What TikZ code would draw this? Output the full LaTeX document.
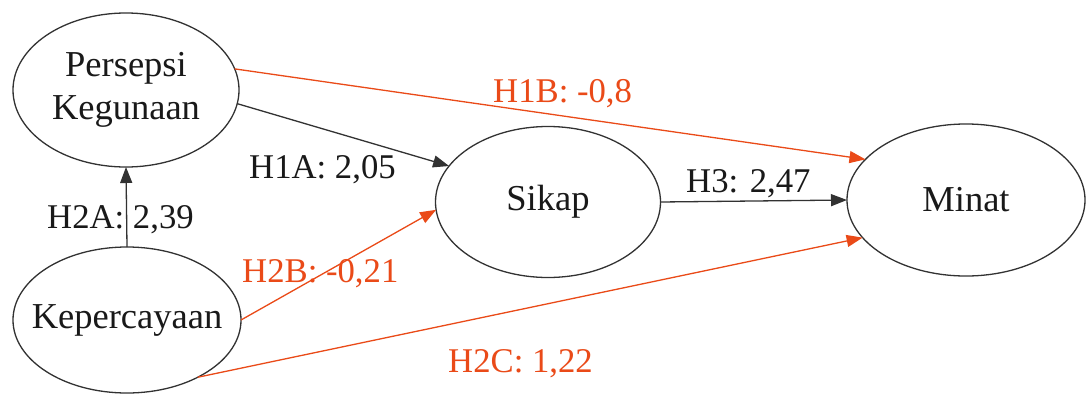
\documentclass[tikz,border=0pt]{standalone}
\usepackage{fontspec}
\setmainfont{Liberation Serif}
\usetikzlibrary{arrows.meta,shapes.geometric}
\definecolor{hred}{RGB}{234,74,24}
\definecolor{edgegray}{RGB}{50,50,50}
\tikzset{
  construct/.style={ellipse,draw=edgegray,line width=1.3pt,inner sep=0pt,outer sep=0pt},
  constructtext/.style={align=center,inner sep=0pt,font=\fontsize{36.5}{43}\selectfont,text=black!90},
  blackarrow/.style={draw=edgegray,line width=1.3pt,-{Triangle[length=16pt,width=12pt]}},
  redarrow/.style={draw=hred,line width=1.3pt,-{Triangle[length=16pt,width=12pt]}},
  blacklabel/.style={anchor=base west,inner sep=0pt,font=\fontsize{34.7}{40}\selectfont,text=black!90},
  redlabel/.style={anchor=base west,inner sep=0pt,font=\fontsize{34.7}{40}\selectfont,text=hred},
}
\begin{document}
\begin{tikzpicture}[x=1pt,y=-1pt]
\useasboundingbox[fill=white] (0,0) rectangle (1087,394);
\node[construct,minimum width=226pt,minimum height=154pt] (pk) at (126,90) {};
\node[construct,minimum width=228pt,minimum height=146pt] (kp) at (127,320) {};
\node[construct,minimum width=225pt,minimum height=151pt] (sk) at (548,202) {};
\node[construct,minimum width=238pt,minimum height=152pt] (mi) at (966,200) {};
\node[constructtext] (pkt) at (pk.center) {Persepsi\\Kegunaan};
\node[constructtext] (kpt) at (kp.center) {Kepercayaan};
\node[constructtext] (skt) at (sk.center) {Sikap};
\node[constructtext] (mit) at (mi.center) {Minat};

\draw[blackarrow] (kp.90) -- (pk.270);
\draw[blackarrow] (pk.-7.7) -- (sk.160.2);
\draw[redarrow] (pk.11.7) -- (mi.158.8);
\draw[blackarrow] (sk.0) -- (mi.180);
\draw[redarrow] (kp.0) -- (sk.184);
\draw[redarrow] (kp.-39.2) -- (mi.200.2);

\node[blacklabel] (l2a) at (47,228) {H2A: 2,39};
\node[blacklabel] (l1a) at (249,178) {H1A: 2,05};
\node[redlabel] (l1b) at (493,102) {H1B: -0,8};
\node[blacklabel] (l3) at (686,192) {H3: 2,47};
\node[redlabel] (l2b) at (242,282) {H2B: -0,21};
\node[redlabel] (l2c) at (448,372) {H2C: 1,22};
\end{tikzpicture}
\end{document}
